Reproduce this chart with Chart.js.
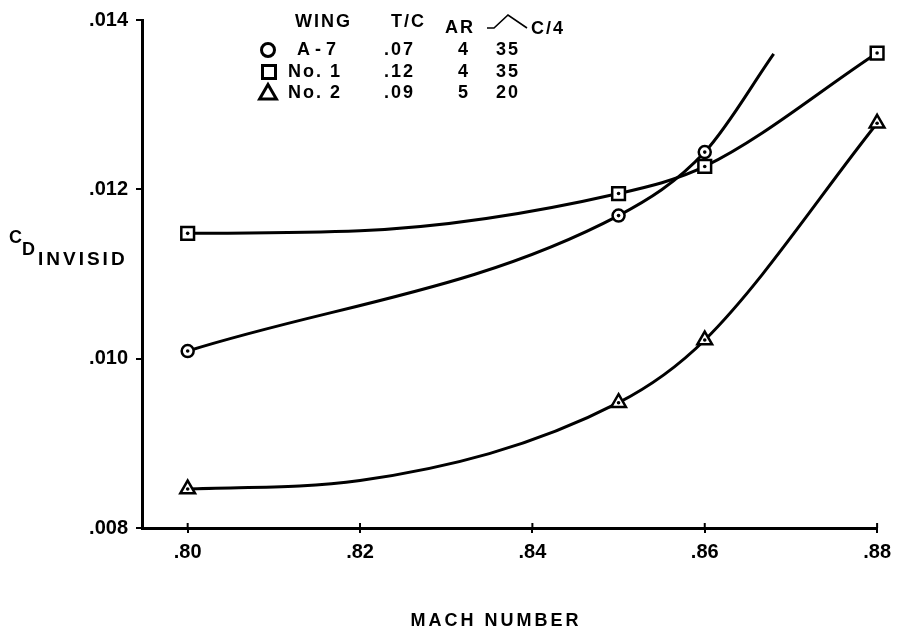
<!DOCTYPE html>
<html>
<head>
<meta charset="utf-8">
<script src="https://cdn.jsdelivr.net/npm/chart.js@4/dist/chart.umd.min.js"></script>
<style>
  html, body { margin: 0; padding: 0; background: #fff; }
  #wrap { position: relative; width: 898px; height: 635px; }
</style>
</head>
<body>
<div id="wrap"><canvas id="CdChart" width="898" height="635"></canvas></div>
<script>
// values (false = point on the curve without a symbol)
const a7Mach = [0.80, 0.85, 0.86, 0.868];
const a7Cd = [0.01009, 0.01169, 0.01244, 0.0136];
const a7Marker = [true, true, true, false];

const no1Mach = [0.80, 0.82, 0.85, 0.86, 0.88];
const no1Cd = [0.01148, 0.01151, 0.01195, 0.01227, 0.01361];
const no1Marker = [true, false, true, true, true];

const no2Mach = [0.80, 0.82, 0.85, 0.86, 0.88];
const no2Cd = [0.00846, 0.00856, 0.00948, 0.01022, 0.01278];
const no2Marker = [true, false, true, true, true];

const xTicks = [0.80, 0.82, 0.84, 0.86, 0.88];
const xTickLabels = [".80", ".82", ".84", ".86", ".88"];
const yTicks = [0.008, 0.010, 0.012, 0.014];
const yTickLabels = [".008", ".010", ".012", ".014"];

const legendHeader = ["WING", "T/C", "AR", "C/4"];
const legendRows = [
  ["A-7", ".07", "4", "35"],
  ["No. 1", ".12", "4", "35"],
  ["No. 2", ".09", "5", "20"],
];

const toXY = (xs, ys) => xs.map((x, i) => ({ x: x, y: ys[i] }));

document.addEventListener("DOMContentLoaded", function () {
  const ctx = document.getElementById("CdChart").getContext("2d");

  function shape(c, style, x, y, r) {
    c.beginPath();
    if (style === "circle") {
      c.arc(x, y, r, 0, Math.PI * 2);
    } else if (style === "rect") {
      c.rect(x - r, y - r, 2 * r, 2 * r);
    } else {
      c.moveTo(x, y - r * 1.05);
      c.lineTo(x + r * 1.05, y + r * 0.75);
      c.lineTo(x - r * 1.05, y + r * 0.75);
      c.closePath();
    }
    c.fill();
    c.stroke();
  }

  const overlay = {
    id: "overlay",
    afterDatasetsDraw(chart) {
      const c = chart.ctx;
      c.save();
      c.fillStyle = "#000";
      chart.data.datasets.forEach((ds, di) => {
        const meta = chart.getDatasetMeta(di);
        meta.data.forEach((pt, i) => {
          const r = Array.isArray(ds.pointRadius) ? ds.pointRadius[i] : ds.pointRadius;
          if (!r) return;
          c.beginPath();
          c.arc(pt.x, pt.y, 1.8, 0, Math.PI * 2);
          c.fill();
        });
      });
      c.restore();
    },
    afterDraw(chart) {
      const c = chart.ctx;
      const xs = chart.scales.x;
      c.save();
      c.fillStyle = "#000";
      c.strokeStyle = "#000";

      // inner half of the x tick marks
      c.lineWidth = 2;
      xTicks.forEach((v) => {
        const px = xs.getPixelForValue(v);
        c.beginPath();
        c.moveTo(px, xs.top - 5);
        c.lineTo(px, xs.top);
        c.stroke();
      });

      c.textBaseline = "middle";
      c.textAlign = "left";

      // legend table
      c.font = 'bold 18px "Liberation Sans"';
      c.letterSpacing = "2px";
      c.fillText(legendHeader[0], 295, 22);
      c.fillText(legendHeader[1], 391, 22);
      c.fillText(legendHeader[2], 445, 28);
      c.fillText(legendHeader[3], 531, 29);
      // sweep symbol
      c.lineWidth = 1.6;
      c.beginPath();
      c.moveTo(487, 28);
      c.lineTo(494, 28);
      c.lineTo(508, 15);
      c.lineTo(527, 28);
      c.stroke();

      const rowY = [50, 72, 93];
      const cols = [null, 384, 458, 496];
      legendRows.forEach((row, i) => {
        c.letterSpacing = i === 0 ? "5px" : "2px";
        c.fillText(row[0], i === 0 ? 297 : 288, rowY[i]);
        c.letterSpacing = "2px";
        for (let k = 1; k < row.length; k++) c.fillText(row[k], cols[k], rowY[i]);
      });
      c.fillStyle = "#fff";
      c.lineWidth = 3;
      shape(c, "circle", 268, 50, 6.5);
      shape(c, "rect", 269, 72, 6.5);
      shape(c, "triangle", 268, 93, 8);

      // axis titles
      c.fillStyle = "#000";
      c.font = 'bold 18px "Liberation Sans"';
      c.letterSpacing = "3px";
      c.textAlign = "center";
      c.fillText("MACH NUMBER", 496, 621);
      c.textAlign = "left";
      c.letterSpacing = "0px";
      c.fillText("C", 9, 238);
      c.fillText("D", 22, 250);
      c.font = 'bold 19px "Liberation Sans"';
      c.letterSpacing = "3px";
      c.fillText("INVISID", 38, 260);
      c.restore();
    },
  };

  const common = {
    showLine: true,
    clip: false,
    borderColor: "#000",
    borderWidth: 3,
    backgroundColor: "#fff",
    pointBackgroundColor: "#fff",
    pointBorderColor: "#000",
    pointBorderWidth: 2.5,
    cubicInterpolationMode: "monotone",
    fill: false,
  };

  const chartData = {
    datasets: [
      Object.assign({}, common, {
        label: "A-7",
        data: toXY(a7Mach, a7Cd),
        pointStyle: "circle",
        pointRadius: a7Marker.map((m) => (m ? 6 : 0)),
      }),
      Object.assign({}, common, {
        label: "No. 1",
        data: toXY(no1Mach, no1Cd),
        pointStyle: "rect",
        pointRadius: no1Marker.map((m) => (m ? 9 : 0)),
      }),
      Object.assign({}, common, {
        label: "No. 2",
        data: toXY(no2Mach, no2Cd),
        pointStyle: "triangle",
        pointRadius: no2Marker.map((m) => (m ? 8.5 : 0)),
      }),
    ],
  };

  const tickFont = { family: "Liberation Sans", size: 20, weight: "bold" };

  const chartOptions = {
    responsive: false,
    animation: false,
    layout: { padding: { top: 19, right: 17, left: 0, bottom: 0 } },
    plugins: {
      legend: { display: false },
      tooltip: { enabled: false },
    },
    scales: {
      x: {
        type: "linear",
        min: 0.7947,
        max: 0.88,
        afterBuildTicks: (s) => { s.ticks = xTicks.map((v) => ({ value: v })); },
        afterFit: (s) => { s.height = 107; },
        ticks: {
          color: "#000",
          font: tickFont,
          padding: 7,
          maxRotation: 0,
          callback: (v) => xTickLabels[xTicks.findIndex((t) => Math.abs(t - v) < 1e-6)],
        },
        grid: { drawOnChartArea: false, drawTicks: true, tickLength: 5, color: "#000", lineWidth: 2 },
        border: { display: true, color: "#000", width: 3 },
      },
      y: {
        type: "linear",
        min: 0.008,
        max: 0.014,
        afterBuildTicks: (s) => { s.ticks = yTicks.map((v) => ({ value: v })); },
        afterFit: (s) => { s.width = 142; },
        ticks: {
          color: "#000",
          font: tickFont,
          padding: 8,
          callback: (v) => yTickLabels[yTicks.findIndex((t) => Math.abs(t - v) < 1e-7)],
        },
        grid: { drawOnChartArea: false, drawTicks: true, tickLength: 6, color: "#000", lineWidth: 2 },
        border: { display: true, color: "#000", width: 3 },
      },
    },
  };

  new Chart(ctx, {
    type: "scatter",
    data: chartData,
    options: chartOptions,
    plugins: [overlay],
  });
});
</script>
</body>
</html>
